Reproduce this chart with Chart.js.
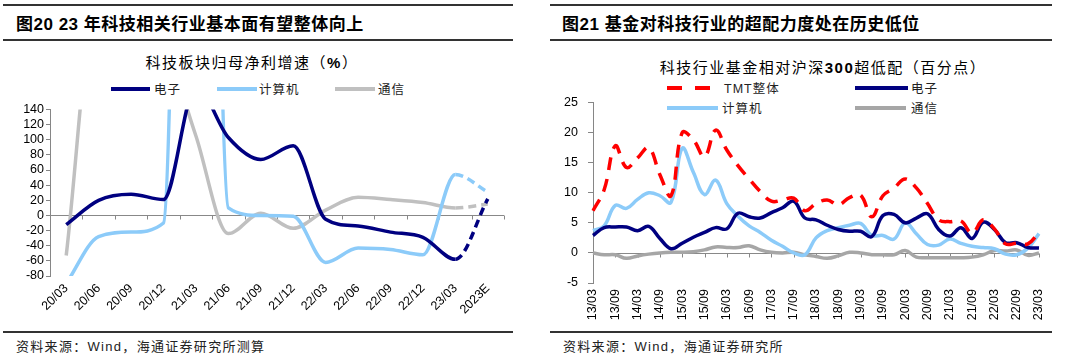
<!DOCTYPE html>
<html>
<head>
<meta charset="utf-8">
<script src="https://cdn.jsdelivr.net/npm/chart.js@4.4.1/dist/chart.umd.min.js"></script>
<style>
  body { margin: 0; background: #fff; }
  #page { position: relative; width: 1080px; height: 358px; overflow: hidden; font-family: "Noto Sans CJK SC", sans-serif; color: #000; }
  .rule { position: absolute; background: #333; }
  .title { position: absolute; top: 13px; font-size: 17px; font-weight: bold; line-height: 20px; letter-spacing: 0.5px; white-space: nowrap; }
  .sub { position: absolute; font-size: 15px; line-height: 18px; letter-spacing: 1.5px; white-space: nowrap; transform: translateX(-50%); }
  .src { position: absolute; top: 338px; font-size: 13px; line-height: 16px; color: #222; letter-spacing: 1.3px; white-space: nowrap; }
  .num { font-family: "Liberation Sans", Arial, sans-serif; }
  .lg { position: absolute; font-size: 12.5px; line-height: 14px; color: #222; white-space: nowrap; letter-spacing: 1px; }
  .sw { position: absolute; height: 4px; }
  canvas { position: absolute; }
</style>
</head>
<body>
<div id="page">
  <!-- 左侧 -->
  <div class="rule" style="left:3px;top:4px;width:510px;height:2px"></div>
  <div class="title" style="left:16px">图<span class="num">20 23 </span>年科技相关行业基本面有望整体向上</div>
  <div class="rule" style="left:3px;top:39px;width:510px;height:1.5px"></div>
  <div class="sub" style="left:252px;top:53px">科技板块归母净利增速（<b class="num">%</b>）</div>
  <div class="sw" style="left:111px;top:87px;width:39px;background:#000080"></div>
  <div class="lg" style="left:154px;top:82px">电子</div>
  <div class="sw" style="left:217px;top:87px;width:40px;background:#8ccbf9"></div>
  <div class="lg" style="left:259px;top:82px">计算机</div>
  <div class="sw" style="left:335px;top:87px;width:40px;background:#c0c0c0"></div>
  <div class="lg" style="left:378px;top:82px">通信</div>
  <canvas id="left" width="520" height="230" style="left:0;top:100px"></canvas>
  <div class="rule" style="left:3px;top:331px;width:510px;height:1.5px"></div>
  <div class="src" style="left:16px">资料来源：<span class="num">Wind</span>，海通证券研究所测算</div>

  <!-- 右侧 -->
  <div class="rule" style="left:550px;top:4px;width:502px;height:2px"></div>
  <div class="title" style="left:562px">图<span class="num">21 </span>基金对科技行业的超配力度处在历史低位</div>
  <div class="rule" style="left:550px;top:39px;width:502px;height:1.5px"></div>
  <div class="sub" style="left:823px;top:58px">科技行业基金相对沪深<b class="num">300</b>超低配（百分点）</div>
  <div class="sw" style="left:667px;top:86px;width:15px;background:#ff0000"></div>
  <div class="sw" style="left:695px;top:86px;width:15px;background:#ff0000"></div>
  <div class="lg" style="left:724px;top:81px"><span class="num">TMT</span>整体</div>
  <div class="sw" style="left:855px;top:86px;width:53px;background:#000080"></div>
  <div class="lg" style="left:911px;top:81px">电子</div>
  <div class="sw" style="left:667px;top:106px;width:51px;background:#8ccbf9"></div>
  <div class="lg" style="left:722px;top:101px">计算机</div>
  <div class="sw" style="left:855px;top:106px;width:51px;background:#a6a6a6"></div>
  <div class="lg" style="left:911px;top:101px">通信</div>
  <canvas id="right" width="520" height="245" style="left:540px;top:85px"></canvas>
  <div class="rule" style="left:550px;top:331px;width:502px;height:1.5px"></div>
  <div class="src" style="left:563px">资料来源：<span class="num">Wind</span>，海通证券研究所</div>
</div>

<script>
// 左图：科技板块归母净利增速（%）
const profitLabels = ['20/03', '20/06', '20/09', '20/12', '21/03', '21/06', '21/09', '21/12', '22/03', '22/06', '22/09', '22/12', '23/03', '2023E'];
const profitElec = [-12, 20, 28, 21, 170, 103, 74, 92, -5, -14, -22, -29, -58, 22];
const profitComp = [-90, -28, -22, -10, 1700, 10, 0, -1, -62, -43, -45, -52, 54, 31];
const profitComm = [-53, 310, 280, 230, 105, -24, 3, -17, 7, 24, 21, 17, 10, 15];

// 右图：科技行业基金相对沪深300超低配（百分点）
const weightLabels = [
  '13/03', '13/06', '13/09', '13/12', '14/03', '14/06', '14/09', '14/12',
  '15/03', '15/06', '15/09', '15/12', '16/03', '16/06', '16/09', '16/12',
  '17/03', '17/06', '17/09', '17/12', '18/03', '18/06', '18/09', '18/12',
  '19/03', '19/06', '19/09', '19/12', '20/03', '20/06', '20/09', '20/12',
  '21/03', '21/06', '21/09', '21/12', '22/03', '22/06', '22/09', '22/12', '23/03'
];
const weightTMT = [7, 10.5, 17.8, 14.2, 15.8, 17.5, 13, 9.5, 20, 18.8, 16, 20.4, 17.1, 14.5, 12.3, 10.2, 8.6, 8.8, 9.1, 7.0, 8.2, 8.8, 8.0, 9.2, 9.6, 6.0, 9.5, 10.8, 12.3, 10.8, 8.2, 5.5, 5.2, 5.3, 3.3, 5.5, 4.0, 1.5, 1.6, 1.5, 3.4];
const weightElec = [2.9, 4.2, 4.3, 4.3, 3.7, 4.4, 2.4, 0.7, 1.6, 2.6, 3.4, 4.2, 4.0, 6.6, 6.0, 5.8, 6.7, 7.5, 8.6, 5.8, 5.5, 4.6, 3.9, 3.6, 3.6, 2.7, 6.2, 6.4, 5.0, 5.8, 6.5, 3.9, 2.8, 4.2, 2.4, 5.1, 3.9, 1.7, 1.7, 0.9, 0.8];
const weightComp = [3.7, 4.5, 7.9, 7.4, 8.9, 10, 9.5, 8.4, 17.4, 13.4, 9.7, 12.1, 8.2, 6.1, 4.5, 3.4, 2.1, 1.1, 0, -0.3, 2.5, 3.7, 4.2, 4.6, 4.9, 2.9, 2.9, 2.3, 5.0, 3.2, 1.4, 1.3, 2.3, 1.6, 1.1, 0.9, 0.7, -0.2, -0.3, 0.8, 3.2];
const weightComm = [0, -0.3, -0.3, -0.9, -0.5, -0.2, 0, 0.1, 0.1, 0.2, 0.5, 1.0, 0.9, 0.9, 1.2, 0.5, 0.1, 0, 0.1, -0.3, -0.6, -0.9, -0.5, 0.1, 0, -0.3, -0.3, -0.3, 0.4, -0.7, -0.8, -0.8, -0.8, -0.8, -0.7, -0.3, 0.4, 0.3, 0.5, -0.4, 0];

const NAVY = '#000080', SKY = '#8ccbf9', RED = '#ff0000';
const numFont = { family: '"Liberation Sans", Arial, sans-serif', size: 12.5 };

// 在0值处画横轴和刻度线
const zeroAxis = {
  id: 'zeroAxis',
  beforeDatasetsDraw(chart, args, opts) {
    const { ctx, chartArea, scales: { x, y } } = chart;
    const y0 = Math.round(y.getPixelForValue(0)) + 0.5;
    ctx.save();
    ctx.strokeStyle = opts.color;
    ctx.lineWidth = 1;
    ctx.beginPath();
    ctx.moveTo(chartArea.left, y0);
    ctx.lineTo(chartArea.right, y0);
    opts.at.forEach(v => {
      const px = Math.round(x.getPixelForValue(v)) + 0.5;
      ctx.moveTo(px, y0);
      ctx.lineTo(px, y0 + opts.len);
    });
    ctx.stroke();
    ctx.restore();
  }
};

function yAxis(min, max, step, w, pad, tl) {
  return {
    min: min, max: max,
    border: { display: true, color: '#868686' },
    grid: { drawOnChartArea: false, drawTicks: true, tickLength: tl, color: '#868686' },
    ticks: { stepSize: step, autoSkip: false, padding: pad, color: '#000', font: numFont },
    afterFit: s => { s.width = w; }
  };
}

// 左图
const leftTicks = [];
for (let i = 0; i < profitLabels.length; i++) leftTicks.push(i + 0.5);
const lastDash = ctx => ctx.p1DataIndex === profitLabels.length - 1 ? [8, 5] : undefined;

new Chart(document.getElementById('left'), {
  type: 'line',
  data: {
    labels: profitLabels,
    datasets: [
      { label: '电子', data: profitElec, borderColor: NAVY, segment: { borderDash: lastDash } },
      { label: '计算机', data: profitComp, borderColor: SKY, segment: { borderDash: lastDash } },
      { label: '通信', data: profitComm, borderColor: '#c0c0c0', segment: { borderDash: lastDash } }
    ]
  },
  options: {
    responsive: false,
    animation: false,
    layout: { padding: { top: 8, right: 16, left: 0, bottom: 0 } },
    elements: {
      point: { radius: 0 },
      line: { borderWidth: 3.5, cubicInterpolationMode: 'monotone' }
    },
    plugins: {
      legend: { display: false },
      tooltip: { enabled: false },
      zeroAxis: { color: '#888', len: 4, at: leftTicks }
    },
    scales: {
      x: {
        offset: true,
        border: { display: false },
        grid: { display: false, drawTicks: false },
        ticks: { autoSkip: false, minRotation: 45, maxRotation: 45, padding: 5, color: '#000', font: numFont },
        afterFit: s => { s.height = 54; }
      },
      y: yAxis(-80, 140, 20, 50, 2, 4)
    }
  },
  plugins: [zeroAxis]
});

// 右图
const rightTicks = [];
for (let i = 2; i < weightLabels.length; i += 2) rightTicks.push(i);

new Chart(document.getElementById('right'), {
  type: 'line',
  data: {
    labels: weightLabels,
    datasets: [
      { label: 'TMT整体', data: weightTMT, borderColor: RED, borderDash: [13, 9] },
      { label: '电子', data: weightElec, borderColor: NAVY },
      { label: '计算机', data: weightComp, borderColor: SKY },
      { label: '通信', data: weightComm, borderColor: '#a6a6a6' }
    ]
  },
  options: {
    responsive: false,
    animation: false,
    layout: { padding: { top: 7, right: 19, left: 0, bottom: 0 } },
    elements: {
      point: { radius: 0 },
      line: { borderWidth: 3.5, tension: 0.4 }
    },
    plugins: {
      legend: { display: false },
      tooltip: { enabled: false },
      zeroAxis: { color: '#888', len: 4, at: rightTicks }
    },
    scales: {
      x: {
        offset: false,
        border: { display: false },
        grid: { display: false, drawTicks: false },
        ticks: {
          autoSkip: false, minRotation: 90, maxRotation: 90, padding: 6, color: '#000', font: numFont,
          callback: (v, i) => i % 2 === 0 ? weightLabels[i] : ''
        },
        afterFit: s => { s.height = 47; }
      },
      y: yAxis(-5, 25, 5, 53, 10, 5)
    }
  },
  plugins: [zeroAxis]
});
</script>
</body>
</html>
